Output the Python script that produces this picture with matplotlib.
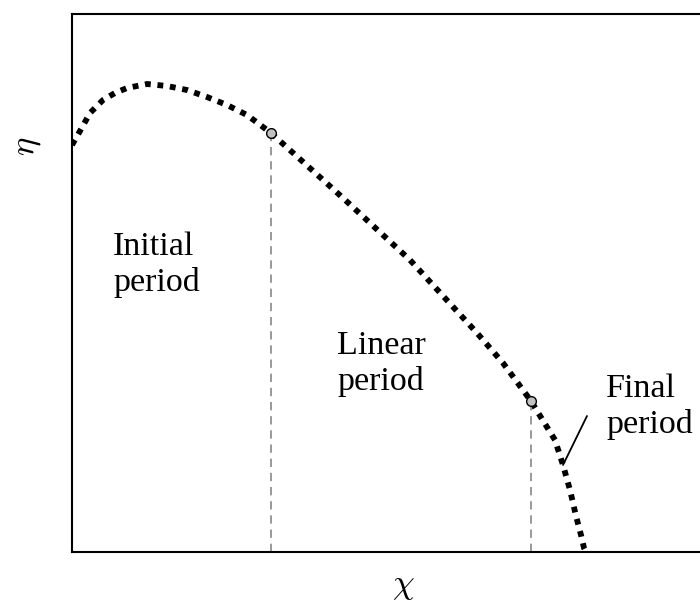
import numpy as np
import matplotlib.pyplot as plt

plt.rcParams['font.family'] = ['Liberation Serif', 'DejaVu Serif']
plt.rcParams['mathtext.fontset'] = 'cm'

# кривая eta(chi), значения
chi = [0.00, 0.08, 0.18, 0.31, 0.43, 0.55, 0.75, 0.95, 1.15, 1.35, 1.55, 1.75,
       1.99, 2.71, 3.38, 4.05, 4.31, 4.59, 4.70, 4.83, 4.91, 4.98, 5.04, 5.09, 5.12, 5.14]
eta = [4.07, 4.21, 4.39, 4.52, 4.59, 4.64, 4.68, 4.66, 4.62, 4.55, 4.47, 4.37,
       4.19, 3.54, 2.92, 2.19, 1.89, 1.51, 1.33, 1.12, 0.87, 0.62, 0.36, 0.17, 0.04, 0.00]

# границы периодов
chi_b = [1.99, 4.59]
eta_b = [4.19, 1.51]

labels = ["Initial\nperiod", "Linear\nperiod", "Final\nperiod"]
label_x = [0.41, 2.65, 5.34]
label_y = [3.20, 2.21, 1.78]

fig = plt.figure(figsize=(7.0, 6.03), dpi=100)
ax = fig.add_axes([72 / 700, 51 / 603, 648 / 700, 538 / 603])

ax.plot(chi, eta, color='black', linewidth=4.2, linestyle=(0, (1, 1.15)))
ax.vlines(chi_b, 0, eta_b, colors='#888888', linestyles=(0, (5, 3.5)), linewidth=1.2)
ax.plot(chi_b, eta_b, 'o', markersize=7, markerfacecolor='#c0c0c0',
        markeredgecolor='black', markeredgewidth=1.0)

for t, x, y in zip(labels, label_x, label_y):
    ax.text(x, y, t, fontsize=24.5, va='top', ha='left', linespacing=1.2)

ax.annotate('', xy=(4.91, 0.87), xytext=(5.15, 1.36),
            arrowprops=dict(arrowstyle='-', color='black', linewidth=1.3,
                            shrinkA=0, shrinkB=0))

ax.set_xlim(0, 6.48)
ax.set_ylim(0, 5.38)
ax.set_xticks([])
ax.set_yticks([])
for s in ax.spines.values():
    s.set_linewidth(1.5)

ax.set_xlabel(r'$\chi$', fontsize=25)
ax.set_ylabel(r'$\eta$', fontsize=25)
ax.xaxis.set_label_coords((403 - 72) / 648, -(586 - 552) / 538, transform=ax.transAxes)
ax.yaxis.set_label_coords(-(72 - 26) / 648, (552 - 146) / 538, transform=ax.transAxes)
ax.xaxis.label.set_va('center')
ax.yaxis.label.set_va('center')

fig.savefig('out.png', dpi=100)
